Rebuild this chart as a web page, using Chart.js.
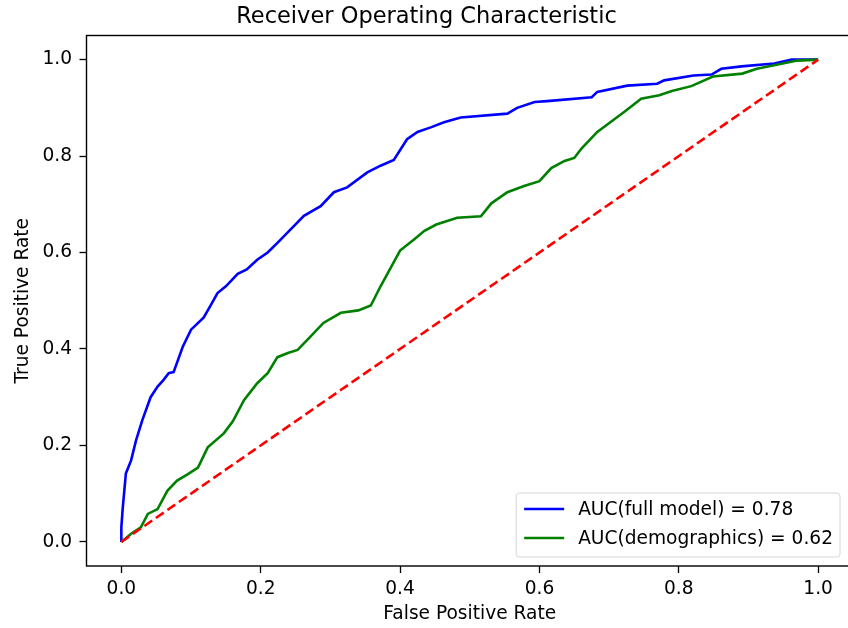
<!DOCTYPE html>
<html>
<head>
<meta charset="utf-8">
<title>Receiver Operating Characteristic</title>
<script src="https://cdn.jsdelivr.net/npm/chart.js@4.4.1/dist/chart.umd.min.js"></script>
<style>
  html, body { margin: 0; padding: 0; background: #fff; }
  #wrap { width: 848px; height: 628px; overflow: hidden; position: relative; }
  #rocChart { display: block; }
</style>
</head>
<body>
<div id="wrap"><canvas id="rocChart" width="860" height="628"></canvas></div>
<script>
// ========== DATA ==========
const fprFull = [0, 0, 0.002, 0.0065, 0.014, 0.021, 0.030, 0.042, 0.052, 0.060, 0.068, 0.075,
    0.088, 0.100, 0.118, 0.128, 0.138, 0.150, 0.167, 0.180, 0.195, 0.210, 0.224, 0.243,
    0.262, 0.286, 0.305, 0.324, 0.353, 0.372, 0.391, 0.410, 0.425, 0.445, 0.463, 0.487,
    0.554, 0.568, 0.593, 0.611, 0.675, 0.683, 0.726, 0.769, 0.779, 0.821, 0.847, 0.861,
    0.890, 0.937, 0.962, 1.0];
const tprFull = [0, 0.03, 0.07, 0.142, 0.169, 0.21, 0.252, 0.300, 0.322, 0.335, 0.350, 0.352,
    0.404, 0.440, 0.465, 0.490, 0.516, 0.530, 0.556, 0.565, 0.585, 0.600, 0.620, 0.648,
    0.676, 0.696, 0.725, 0.735, 0.766, 0.780, 0.792, 0.835, 0.850, 0.860, 0.870, 0.880,
    0.888, 0.900, 0.912, 0.914, 0.922, 0.933, 0.946, 0.950, 0.957, 0.967, 0.969, 0.981,
    0.986, 0.992, 1.0, 1.0];

const fprDemo = [0, 0.014, 0.028, 0.038, 0.052, 0.066, 0.080, 0.095, 0.110, 0.124, 0.147,
    0.160, 0.176, 0.195, 0.210, 0.224, 0.240, 0.253, 0.271, 0.290, 0.315, 0.340, 0.358,
    0.372, 0.382, 0.400, 0.420, 0.435, 0.452, 0.482, 0.516, 0.531, 0.554, 0.578, 0.600,
    0.617, 0.636, 0.650, 0.660, 0.683, 0.708, 0.722, 0.746, 0.772, 0.790, 0.818, 0.849,
    0.891, 0.912, 0.935, 0.970, 1.0];
const tprDemo = [0, 0.017, 0.030, 0.058, 0.068, 0.106, 0.127, 0.140, 0.154, 0.196, 0.225,
    0.250, 0.294, 0.329, 0.350, 0.383, 0.392, 0.398, 0.425, 0.454, 0.475, 0.480, 0.490,
    0.530, 0.556, 0.604, 0.627, 0.645, 0.658, 0.672, 0.675, 0.702, 0.725, 0.738, 0.748,
    0.775, 0.790, 0.796, 0.815, 0.850, 0.877, 0.892, 0.919, 0.926, 0.935, 0.945, 0.965,
    0.971, 0.981, 0.988, 0.998, 1.0];

const chanceLine = [0, 1];
const tickValues = [0, 0.2, 0.4, 0.6, 0.8, 1.0];

const labelFull = 'AUC(full model) = 0.78';
const labelDemo = 'AUC(demographics) = 0.62';

const FONT = 'DejaVu Sans';

function toPoints(xs, ys) {
    return xs.map((x, i) => ({ x: x, y: ys[i] }));
}

// Moldura completa do eixo (estilo matplotlib)
const framePlugin = {
    id: 'frame',
    afterDatasetsDraw(chart) {
        const { ctx, chartArea: a } = chart;
        ctx.save();
        ctx.strokeStyle = '#000';
        ctx.lineWidth = 1.4;
        ctx.strokeRect(a.left, a.top, a.right - a.left, a.bottom - a.top);
        ctx.restore();
    }
};

// Legenda dentro do gráfico, canto inferior direito
const innerLegendPlugin = {
    id: 'innerLegend',
    afterDraw(chart) {
        const { ctx, chartArea: a } = chart;
        const items = chart.data.datasets.filter(d => d.label);
        ctx.save();
        ctx.font = '18.6px "' + FONT + '"';
        const textW = Math.max(...items.map(d => ctx.measureText(d.label).width));
        const rowH = 29;
        const w = 8 + 40 + 14 + textW + 7;
        const h = 35 + rowH * (items.length - 1);
        const x0 = a.right - 13 - w;
        const y0 = a.bottom - 9 - h;

        ctx.beginPath();
        ctx.roundRect(x0, y0, w, h, 3);
        ctx.fillStyle = 'rgba(255,255,255,0.8)';
        ctx.fill();
        ctx.strokeStyle = '#d6d6d6';
        ctx.lineWidth = 1;
        ctx.stroke();

        items.forEach((d, i) => {
            const y = y0 + 16 + i * rowH;
            ctx.beginPath();
            ctx.moveTo(x0 + 8, y);
            ctx.lineTo(x0 + 48, y);
            ctx.strokeStyle = d.borderColor;
            ctx.lineWidth = d.borderWidth;
            ctx.stroke();
            ctx.fillStyle = '#000';
            ctx.textBaseline = 'middle';
            ctx.textAlign = 'left';
            ctx.fillText(d.label, x0 + 62, y + 1);
        });
        ctx.restore();
    }
};

const tickFont = { family: FONT, size: 18.6 };

new Chart(document.getElementById('rocChart'), {
    type: 'scatter',
    data: {
        datasets: [
            {
                label: labelFull,
                data: toPoints(fprFull, tprFull),
                borderColor: '#0000ff',
                borderWidth: 2.6,
                order: 2
            },
            {
                label: labelDemo,
                data: toPoints(fprDemo, tprDemo),
                borderColor: '#008000',
                borderWidth: 2.6,
                order: 1
            },
            {
                label: '',
                data: toPoints(chanceLine, chanceLine),
                borderColor: '#ff0000',
                borderWidth: 2.6,
                borderDash: [9.5, 4.5],
                order: 0
            }
        ]
    },
    options: {
        responsive: false,
        animation: false,
        devicePixelRatio: 1,
        showLine: true,
        elements: {
            point: { radius: 0 },
            line: { tension: 0, fill: false }
        },
        layout: { padding: { left: 0, right: 7, top: 0, bottom: 0 } },
        plugins: {
            legend: { display: false },
            tooltip: { enabled: false },
            title: {
                display: true,
                text: 'Receiver Operating Characteristic',
                color: '#000',
                font: { family: FONT, size: 22.5, weight: 'normal' },
                padding: { top: 4, bottom: 4.5 }
            }
        },
        scales: {
            x: {
                type: 'linear',
                min: -0.05,
                max: 1.05,
                afterBuildTicks: axis => { axis.ticks = tickValues.map(v => ({ value: v })); },
                afterFit: axis => { axis.height = 62; },
                ticks: {
                    color: '#000',
                    font: tickFont,
                    padding: 5,
                    maxRotation: 0,
                    callback: v => v.toFixed(1)
                },
                grid: {
                    display: true,
                    drawOnChartArea: false,
                    drawTicks: true,
                    tickLength: 7,
                    tickColor: '#000',
                    tickWidth: 1.3
                },
                border: { display: false },
                title: {
                    display: true,
                    text: 'False Positive Rate',
                    color: '#000',
                    font: tickFont,
                    padding: { top: 0, bottom: 2.8 }
                }
            },
            y: {
                type: 'linear',
                min: -0.05,
                max: 1.05,
                afterBuildTicks: axis => { axis.ticks = tickValues.map(v => ({ value: v })); },
                afterFit: axis => { axis.width = 86.5; },
                ticks: {
                    color: '#000',
                    font: tickFont,
                    padding: 7.5,
                    callback: v => v.toFixed(1)
                },
                grid: {
                    display: true,
                    drawOnChartArea: false,
                    drawTicks: true,
                    tickLength: 7,
                    tickColor: '#000',
                    tickWidth: 1.3
                },
                border: { display: false },
                title: {
                    display: true,
                    text: 'True Positive Rate',
                    color: '#000',
                    font: tickFont,
                    padding: { top: 12, bottom: 0 }
                }
            }
        }
    },
    plugins: [framePlugin, innerLegendPlugin]
});
</script>
</body>
</html>
